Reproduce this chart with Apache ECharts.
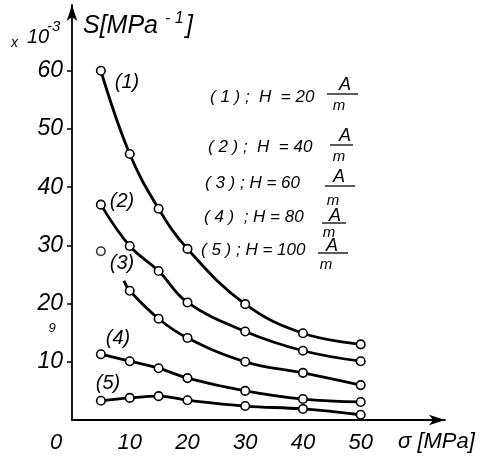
<!DOCTYPE html>
<html><head><meta charset="utf-8">
<script src="https://cdn.jsdelivr.net/npm/echarts@6/dist/echarts.min.js"></script>
<style>html,body{margin:0;padding:0;background:#fff}#c{width:484px;height:456px}</style>
</head><body><div id="c"></div>
<script>
// sigma [MPa]
const sigma = [5, 10, 15, 20, 30, 40, 50];
// S [1e-3 MPa^-1]
const s1 = [60.0, 45.7, 36.3, 29.4, 19.9, 14.9, 13.0];
const s2 = [37.0, 29.9, 25.6, 20.2, 15.2, 11.9, 10.1];
const s3 = [29.0, 22.2, 17.4, 14.1, 10.0, 8.1, 6.0]; // first value is drawn as an isolated point
const s4 = [11.3, 10.1, 8.9, 7.2, 5.0, 3.6, 3.1];
const s5 = [3.3, 3.8, 4.1, 3.4, 2.4, 1.9, 0.9];
const s3LineStart = [9, 23.9];
const xTicks = [10, 20, 30, 40, 50];
const yTicks = [10, 20, 30, 40, 50, 60];
const curveNames = ['(1)', '(2)', '(3)', '(4)', '(5)'];
const legendLines = ['( 1 ) ;  H  = 20', '( 2 ) ;  H  = 40', '( 3 ) ; H = 60', '( 4 )  ; H = 80', '( 5 ) ; H = 100'];

const FONT = '"Liberation Sans", Arial, sans-serif';
const pair = (ys, from) => sigma.slice(from || 0).map((x, i) => [x, ys[i + (from || 0)]]);

const lineStyleBase = { color: '#000', width: 2.8 };
const itemStyleBase = { color: '#fff', borderColor: '#000', borderWidth: 1.6 };
function mkLine(data) {
  return { type: 'line', data, smooth: 0.4, symbol: 'circle', symbolSize: 8.5,
    lineStyle: lineStyleBase, itemStyle: itemStyleBase, z: 3, animation: false };
}

const s3Data = [{ value: s3LineStart, symbol: 'none' }].concat(pair(s3, 1));

const chart = echarts.init(document.getElementById('c'), null, { renderer: 'canvas' });

function txt(text, x, y, size, align) {
  return { type: 'text', x, y, z: 10, style: { text, fill: '#000',
    font: 'italic ' + size + 'px ' + FONT, align: align || 'left', verticalAlign: 'middle' } };
}
function bar(x1, x2, y) {
  return { type: 'line', z: 10, shape: { x1, y1: y, x2, y2: y }, style: { stroke: '#000', lineWidth: 1.3 } };
}
const legendPos = [
  { tx: 210, ty: 97, ax: 345, ay: 85, b1: 327, b2: 358, by: 94, my: 106 },
  { tx: 208, ty: 147, ax: 345, ay: 136, b1: 330, b2: 353, by: 145, my: 157 },
  { tx: 205, ty: 183, ax: 339, ay: 177, b1: 325, b2: 355, by: 186, my: 201 },
  { tx: 204, ty: 217, ax: 335, ay: 216, b1: 322, b2: 346, by: 223, my: 233 },
  { tx: 201, ty: 250, ax: 332, ay: 246, b1: 318, b2: 348, by: 253, my: 265 }
];
const graphics = [];
legendPos.forEach((p, i) => {
  graphics.push(txt(legendLines[i], p.tx, p.ty, 17));
  graphics.push(txt('A', p.ax, p.ay, 18, 'center'));
  graphics.push(bar(p.b1, p.b2, p.by));
  graphics.push(txt('m', p.ax - 6, p.my, 15, 'center'));
});
const labelPos = [[127, 82], [122, 201], [122, 263], [118, 338], [108, 383]];
labelPos.forEach((p, i) => graphics.push(txt(curveNames[i], p[0], p[1], 20, 'center')));
graphics.push(txt('S[MPa', 83, 26, 25));
graphics.push(txt('- 1', 165, 19, 16));
graphics.push(txt(']', 186, 26, 25));
graphics.push(txt('x', 11, 43, 14));
graphics.push(txt('10', 27, 37, 20));
graphics.push(txt('-3', 47, 27, 15));
graphics.push(txt('0', 56, 443, 22, 'center'));
graphics.push(txt('σ [MPa]', 398, 442, 22));
graphics.push(txt('9', 52, 328, 13, 'center'));

chart.setOption({
  animation: false,
  backgroundColor: '#fff',
  grid: { left: 72, right: 39, top: 5, bottom: 36, containLabel: false },
  xAxis: {
    type: 'value', min: 0, max: 64.6,
    axisLine: { show: true, symbol: ['none', 'arrow'], symbolSize: [8, 16], lineStyle: { color: '#000', width: 1.8 } },
    axisTick: { show: false },
    splitLine: { show: false },
    axisLabel: { customValues: xTicks, color: '#000', fontSize: 22, fontStyle: 'italic', fontFamily: FONT, margin: 12 }
  },
  yAxis: {
    type: 'value', min: 0, max: 71.3,
    axisLine: { show: true, symbol: ['none', 'arrow'], symbolSize: [8, 16], lineStyle: { color: '#000', width: 1.8 } },
    axisTick: { show: true, customValues: yTicks, length: 5, lineStyle: { color: '#000', width: 1.5 } },
    splitLine: { show: false },
    axisLabel: { customValues: yTicks, color: '#000', fontSize: 23, fontStyle: 'italic', fontFamily: FONT, margin: 9 }
  },
  series: [
    mkLine(pair(s1)),
    mkLine(pair(s2)),
    mkLine(s3Data),
    { type: 'scatter', data: [[sigma[0], s3[0]]], symbol: 'circle', symbolSize: 8.5, itemStyle: itemStyleBase, z: 4 },
    mkLine(pair(s4)),
    mkLine(pair(s5))
  ],
  graphic: graphics
});
</script></body></html>
